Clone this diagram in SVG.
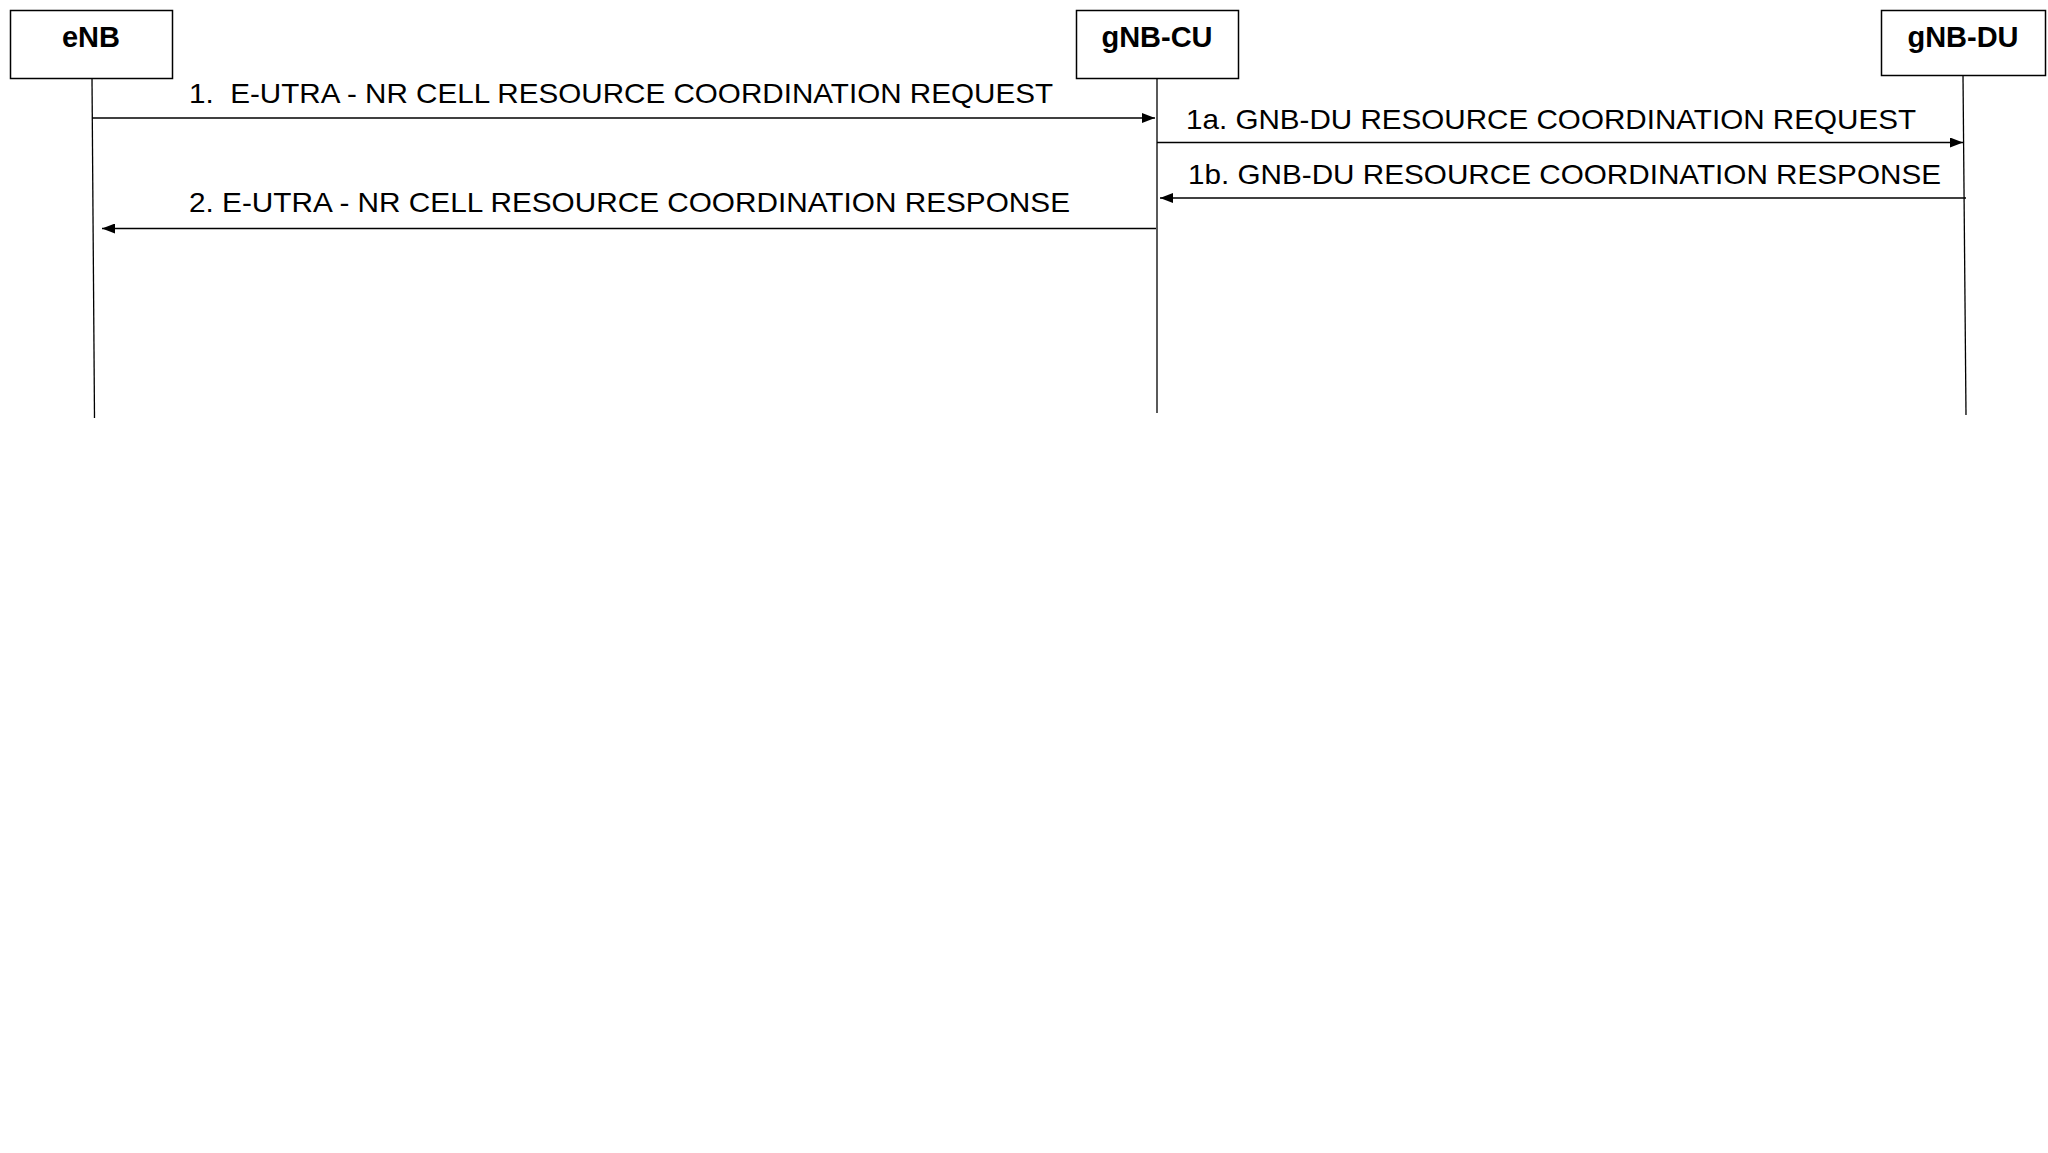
<svg xmlns="http://www.w3.org/2000/svg" width="2048" height="1153" viewBox="0 0 2048 1153">
<style>
.box{fill:#fff;stroke:#000;stroke-width:1.5}
.title{font-family:"Liberation Sans",Arial,sans-serif;font-weight:bold;font-size:29px;text-anchor:middle;fill:#000}
.life{stroke:#000;stroke-width:1.3;fill:none}
.msg{stroke:#000;stroke-width:1.3;fill:none}
.lbl{font-family:"Liberation Sans",Arial,sans-serif;font-size:28.5px;fill:#000}
</style>
<defs>
<marker id="ah" viewBox="0 0 13 10" refX="13" refY="5" markerWidth="13" markerHeight="10" markerUnits="userSpaceOnUse" orient="auto">
<path d="M0,0 L13,5 L0,10 z" fill="#000"/>
</marker>
</defs>
<rect width="2048" height="1153" fill="#fff"/>
<g id="eNB">
<rect class="box" x="10.5" y="10.5" width="162" height="68"/>
<text class="title" x="91" y="47">eNB</text>
<line class="life" x1="92" y1="78.5" x2="94.5" y2="418"/>
</g>
<g id="gNB-CU">
<rect class="box" x="1076.5" y="10.5" width="162" height="68"/>
<text class="title" x="1157" y="47">gNB-CU</text>
<line class="life" x1="1157" y1="78.5" x2="1157" y2="413"/>
</g>
<g id="gNB-DU">
<rect class="box" x="1881.5" y="10.5" width="164" height="65"/>
<text class="title" x="1963" y="47">gNB-DU</text>
<line class="life" x1="1963" y1="75.5" x2="1966" y2="415"/>
</g>
<g id="connectors">
<line class="msg" x1="92" y1="118" x2="1155" y2="118" marker-end="url(#ah)"/>
<text class="lbl" x="189" y="103" textLength="864" lengthAdjust="spacingAndGlyphs">1.&#160; E-UTRA - NR CELL RESOURCE COORDINATION REQUEST</text>
<line class="msg" x1="1157" y1="142.5" x2="1963" y2="142.5" marker-end="url(#ah)"/>
<text class="lbl" x="1186" y="128.5" textLength="730" lengthAdjust="spacingAndGlyphs">1a. GNB-DU RESOURCE COORDINATION REQUEST</text>
<line class="msg" x1="1966" y1="198" x2="1160" y2="198" marker-end="url(#ah)"/>
<text class="lbl" x="1188" y="183.5" textLength="753" lengthAdjust="spacingAndGlyphs">1b. GNB-DU RESOURCE COORDINATION RESPONSE</text>
<line class="msg" x1="1156" y1="228.5" x2="102" y2="228.5" marker-end="url(#ah)"/>
<text class="lbl" x="189" y="211.5" textLength="881" lengthAdjust="spacingAndGlyphs">2. E-UTRA - NR CELL RESOURCE COORDINATION RESPONSE</text>
</g>
</svg>
